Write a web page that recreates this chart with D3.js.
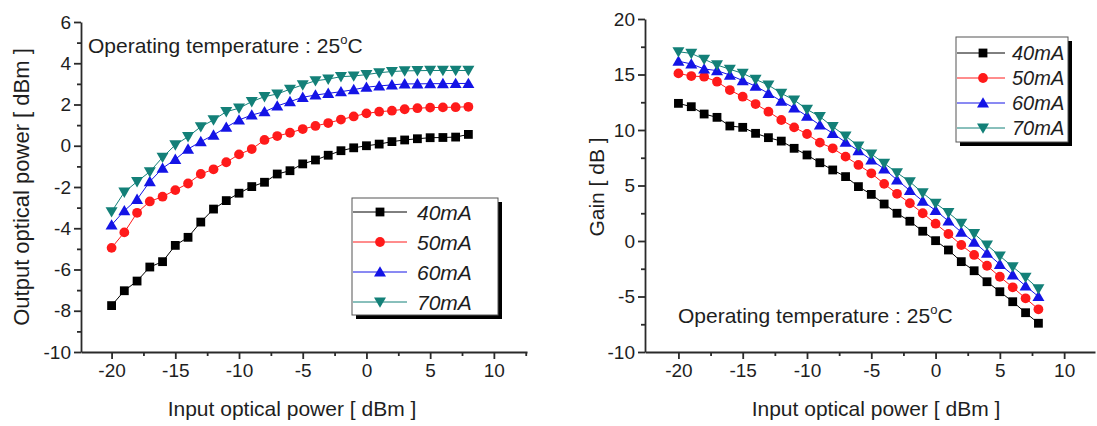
<!DOCTYPE html>
<html>
<head>
<meta charset="utf-8">
<script src="https://cdn.jsdelivr.net/npm/d3@7"></script>
<style>
  body { margin: 0; background: #fff; }
  svg { display: block; }
  text { font-family: "Liberation Sans", Arial, Helvetica, sans-serif; fill: #1e1e1e; }
</style>
</head>
<body>
<svg id="chart" width="1097" height="426"></svg>
<script>
// Input optical power (dBm) for every measured point
const inputPower = [-20, -19, -18, -17, -16, -15, -14, -13, -12, -11, -10, -9, -8, -7, -6,
                    -5, -4, -3, -2, -1, 0, 1, 2, 3, 4, 5, 6, 7, 8];

// Bias currents
const currents = ["40mA", "50mA", "60mA", "70mA"];

// Output optical power (dBm) per bias current
const output40 = [-7.75, -7.03, -6.56, -5.88, -5.62, -4.83, -4.44, -3.70, -3.07, -2.66, -2.30, -1.98, -1.77, -1.37, -1.21,
                  -0.88, -0.69, -0.46, -0.24, -0.10, 0.00, 0.08, 0.20, 0.28, 0.34, 0.39, 0.40, 0.42, 0.55];
const output50 = [-4.95, -4.20, -3.25, -2.70, -2.47, -2.15, -1.83, -1.37, -1.14, -0.80, -0.42, -0.16, 0.28, 0.47, 0.63,
                  0.81, 0.96, 1.10, 1.27, 1.42, 1.57, 1.65, 1.70, 1.77, 1.82, 1.85, 1.86, 1.87, 1.89];
const output60 = [-3.84, -3.15, -2.60, -1.74, -1.09, -0.66, -0.16, 0.20, 0.52, 0.90, 1.25, 1.49, 1.65, 1.93, 2.14,
                  2.35, 2.46, 2.54, 2.62, 2.72, 2.84, 2.90, 2.95, 3.00, 3.00, 3.01, 3.01, 3.02, 3.02];
const output70 = [-3.20, -2.25, -1.74, -1.26, -0.56, 0.04, 0.44, 0.92, 1.25, 1.65, 1.82, 2.14, 2.38, 2.51, 2.74,
                  2.95, 3.15, 3.23, 3.35, 3.38, 3.45, 3.54, 3.60, 3.63, 3.64, 3.65, 3.65, 3.65, 3.65];

// Gain (dB) per bias current
const gain40 = [12.40, 12.10, 11.44, 11.14, 10.36, 10.24, 9.70, 9.31, 9.00, 8.35, 7.75, 7.05, 6.40, 5.80, 4.90,
                4.20, 3.33, 2.50, 1.78, 0.88, 0.03, -0.81, -1.86, -2.68, -3.67, -4.57, -5.47, -6.46, -7.41];
const gain50 = [15.10, 14.86, 14.80, 14.35, 13.60, 13.00, 12.34, 11.65, 10.90, 10.24, 9.64, 8.86, 8.35, 7.60, 6.85,
                6.10, 5.15, 4.25, 3.40, 2.50, 1.56, 0.63, -0.36, -1.26, -2.23, -3.22, -4.17, -5.16, -6.15];
const gain60 = [16.20, 15.95, 15.50, 15.35, 14.95, 14.45, 13.95, 13.30, 12.60, 12.00, 11.25, 10.45, 9.70, 8.90, 8.14,
                7.30, 6.50, 5.50, 4.55, 3.60, 2.75, 1.80, 0.80, -0.10, -1.10, -2.10, -3.05, -4.05, -5.00];
const gain70 = [17.05, 16.90, 16.37, 15.86, 15.47, 15.10, 14.56, 14.05, 13.30, 12.70, 11.86, 11.20, 10.30, 9.46, 8.56,
                7.84, 7.00, 6.15, 5.34, 4.33, 3.40, 2.55, 1.60, 0.66, -0.36, -1.35, -2.32, -3.27, -4.30];

// Tick labels
const xTicks = [-20, -15, -10, -5, 0, 5, 10];
const xMinorTicks = [-17.5, -12.5, -7.5, -2.5, 2.5, 7.5, 12.5];
const outputTicks = [-10, -8, -6, -4, -2, 0, 2, 4, 6];
const outputMinorTicks = [-9, -7, -5, -3, -1, 1, 3, 5];
const gainTicks = [-10, -5, 0, 5, 10, 15, 20];
const gainMinorTicks = [-7.5, -2.5, 2.5, 7.5, 12.5, 17.5];

const colors = ["#000000", "#ff1a1a", "#1414e6", "#138078"];
const markers = ["square", "circle", "up", "down"];

const svg = d3.select("#chart");
svg.append("rect").attr("width", 1097).attr("height", 426).attr("fill", "#fff");

// plain hyphen-minus labels, as on the printed axes
const plainFormat = d => String(d);

function markerPath(type) {
  switch (type) {
    case "square": return "M-4.4,-4.4H4.4V4.4H-4.4Z";
    case "circle": return d3.symbol(d3.symbolCircle, 75)();
    case "up": return "M0,-5.8L6,4.6H-6Z";
    case "down": return "M0,5.8L6,-4.6H-6Z";
  }
}

function drawPanel(cfg) {
  const g = svg.append("g");
  const x = d3.scaleLinear().domain(cfg.xDomain).range(cfg.xRange);
  const y = d3.scaleLinear().domain(cfg.yDomain).range(cfg.yRange);
  const axisY0 = cfg.yRange[0];
  const axisX0 = cfg.xRange[0];

  // minor ticks
  g.append("g").attr("transform", `translate(0,${axisY0})`)
    .call(d3.axisBottom(x).tickValues(cfg.xMinor).tickSize(4).tickSizeOuter(0).tickFormat(""))
    .call(a => a.select(".domain").remove());
  g.append("g").attr("transform", `translate(${axisX0},0)`)
    .call(d3.axisLeft(y).tickValues(cfg.yMinor).tickSize(4).tickSizeOuter(0).tickFormat(""))
    .call(a => a.select(".domain").remove());

  // major axes
  const xa = g.append("g").attr("transform", `translate(0,${axisY0})`)
    .call(d3.axisBottom(x).tickValues(xTicks).tickFormat(plainFormat)
      .tickSize(7).tickSizeOuter(0).tickPadding(5));
  const ya = g.append("g").attr("transform", `translate(${axisX0},0)`)
    .call(d3.axisLeft(y).tickValues(cfg.yTicks).tickFormat(plainFormat)
      .tickSize(7).tickSizeOuter(0).tickPadding(3));
  g.selectAll(".domain, .tick line").attr("stroke", "#2a2a2a").attr("stroke-width", 1.8);
  xa.selectAll("text").attr("font-size", 19).attr("fill", "#1e1e1e");
  ya.selectAll("text").attr("font-size", 19).attr("fill", "#1e1e1e");

  // series
  cfg.series.forEach((vals, i) => {
    const pts = inputPower.map((p, k) => [p, vals[k]]);
    g.append("path")
      .attr("d", d3.line().x(d => x(d[0])).y(d => y(d[1]))(pts))
      .attr("fill", "none").attr("stroke", colors[i]).attr("stroke-width", 1);
    g.append("g").selectAll("path").data(pts).join("path")
      .attr("transform", d => `translate(${x(d[0])},${y(d[1])})`)
      .attr("d", markerPath(markers[i]))
      .attr("fill", colors[i]);
  });

  // axis titles
  g.append("text")
    .attr("x", cfg.xTitlePos[0]).attr("y", cfg.xTitlePos[1])
    .attr("text-anchor", "middle").attr("font-size", 21)
    .text("Input optical power [ dBm ]");
  g.append("text")
    .attr("transform", `translate(${cfg.yTitlePos[0]},${cfg.yTitlePos[1]}) rotate(-90)`)
    .attr("text-anchor", "middle").attr("font-size", cfg.yTitleSize)
    .text(cfg.yTitle);

  // annotation
  const note = g.append("text")
    .attr("x", cfg.notePos[0]).attr("y", cfg.notePos[1])
    .attr("font-size", 21);
  note.append("tspan").text("Operating temperature : 25");
  note.append("tspan").attr("font-size", 13).attr("dy", -9).text("o");
  note.append("tspan").attr("dy", 9).text("C");

  // legend
  const L = cfg.legend;
  const lg = g.append("g").attr("transform", `translate(${L.x},${L.y})`);
  lg.append("rect").attr("x", 4).attr("y", 4).attr("width", L.w).attr("height", L.h).attr("fill", "#000");
  lg.append("rect").attr("width", L.w).attr("height", L.h).attr("fill", "#fff")
    .attr("stroke", "#555").attr("stroke-width", 1);
  currents.forEach((c, i) => {
    const cy = L.row0 + i * L.step;
    lg.append("line").attr("x1", 1).attr("x2", L.lineEnd).attr("y1", cy).attr("y2", cy)
      .attr("stroke", colors[i]).attr("stroke-width", 1);
    lg.append("path").attr("transform", `translate(${L.mark},${cy})`)
      .attr("d", markerPath(markers[i])).attr("fill", colors[i]);
    lg.append("text").attr("x", L.textX).attr("y", cy).attr("dy", "0.36em")
      .attr("font-size", L.font).attr("font-style", "italic").text(c);
  });
}

drawPanel({
  xDomain: [-22.4, 12.6], xRange: [81, 527],
  yDomain: [-10, 6], yRange: [352, 22],
  yTicks: outputTicks, yMinor: outputMinorTicks, xMinor: xMinorTicks,
  series: [output40, output50, output60, output70],
  yTitle: "Output optical power [ dBm ]", yTitleSize: 22,
  xTitlePos: [292, 416], yTitlePos: [29, 187],
  notePos: [88, 53],
  legend: { x: 352, y: 198, w: 146, h: 117, row0: 14, step: 30, lineEnd: 55, mark: 28, textX: 65, font: 21 }
});

drawPanel({
  xDomain: [-22.6, 12.4], xRange: [645, 1095],
  yDomain: [-10, 20], yRange: [352, 19],
  yTicks: gainTicks, yMinor: gainMinorTicks, xMinor: xMinorTicks.filter(v => v < 12),
  series: [gain40, gain50, gain60, gain70],
  yTitle: "Gain [ dB ]", yTitleSize: 21,
  xTitlePos: [876, 416], yTitlePos: [604, 187],
  notePos: [678, 323],
  legend: { x: 956, y: 37, w: 112, h: 105, row0: 16, step: 25, lineEnd: 49, mark: 27, textX: 56, font: 20 }
});
</script>
</body>
</html>
